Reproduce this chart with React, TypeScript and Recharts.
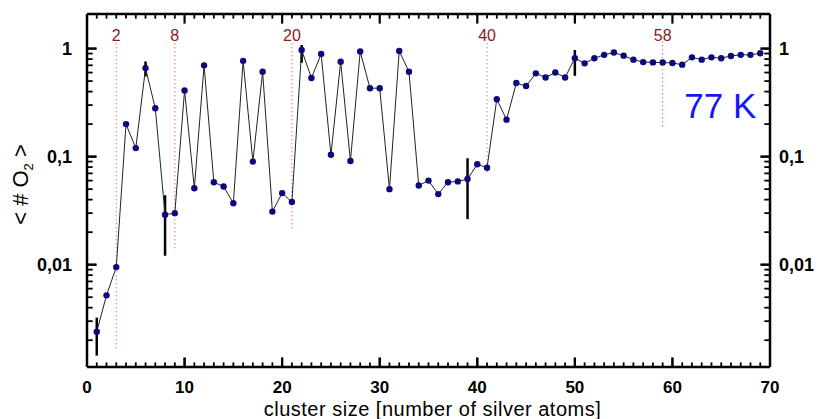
import React from 'react';
import { LineChart, Line, XAxis, YAxis, ReferenceLine, ReferenceDot } from 'recharts';

const sizes = [
  1, 2, 3, 4, 5, 6, 7, 8, 9, 10, 11, 12, 13, 14, 15, 16, 17, 18, 19, 20, 21, 22, 23,
  24, 25, 26, 27, 28, 29, 30, 31, 32, 33, 34, 35, 36, 37, 38, 39, 40, 41, 42, 43, 44,
  45, 46, 47, 48, 49, 50, 51, 52, 53, 54, 55, 56, 57, 58, 59, 60, 61, 62, 63, 64, 65,
  66, 67, 68, 69,
];

const o2 = [
  0.0024, 0.0052, 0.0095, 0.2, 0.12, 0.66, 0.28, 0.029, 0.03, 0.41, 0.051, 0.7, 0.058,
  0.053, 0.037, 0.77, 0.09, 0.61, 0.031, 0.046, 0.038, 0.97, 0.535, 0.89, 0.104, 0.755,
  0.091, 0.94, 0.43, 0.43, 0.05, 0.95, 0.61, 0.054, 0.06, 0.045, 0.058, 0.059, 0.062,
  0.085, 0.079, 0.34, 0.22, 0.48, 0.45, 0.59, 0.54, 0.6, 0.54, 0.815, 0.73, 0.815,
  0.875, 0.92, 0.86, 0.79, 0.75, 0.745, 0.745, 0.735, 0.71, 0.83, 0.79, 0.83, 0.815,
  0.855, 0.875, 0.875, 0.905,
];

// error bars (absolute low / high bounds)
const errX = [1, 6, 8, 22, 39, 50];
const errLow = [0.00144, 0.553, 0.0121, 0.74, 0.0264, 0.56];
const errHigh = [0.00324, 0.76, 0.0439, 1.08, 0.0966, 0.97];

// magic numbers: marker position, label, dotted line extent
const magicX = [3, 9, 21, 41, 59];
const magicLabels = ['2', '8', '20', '40', '58'];
const magicTop = [1.12, 1.12, 1.12, 1.12, 1.17];
const magicBottom = [0.0016, 0.0142, 0.0207, 0.067, 0.19];

const xLabelTicks = [0, 10, 20, 30, 40, 50, 60, 70];
const xMinorTicks = [
  1, 2, 3, 4, 5, 6, 7, 8, 9, 11, 12, 13, 14, 15, 16, 17, 18, 19, 21, 22, 23, 24, 25, 26,
  27, 28, 29, 31, 32, 33, 34, 35, 36, 37, 38, 39, 41, 42, 43, 44, 45, 46, 47, 48, 49, 51,
  52, 53, 54, 55, 56, 57, 58, 59, 61, 62, 63, 64, 65, 66, 67, 68, 69,
];
const xMajorInner = [10, 20, 30, 40, 50, 60];
const yLabelTicks = [0.01, 0.1, 1];
const yMinorTicks = [
  0.002, 0.003, 0.004, 0.005, 0.006, 0.007, 0.008, 0.009,
  0.02, 0.03, 0.04, 0.05, 0.06, 0.07, 0.08, 0.09,
  0.2, 0.3, 0.4, 0.5, 0.6, 0.7, 0.8, 0.9,
];

const data = sizes.map((n, i) => ({ n, v: o2[i] }));

const FONT = '"Liberation Sans", Arial, sans-serif';
const X_DOMAIN: [number, number] = [0, 70];
const Y_DOMAIN: [number, number] = [0.00113, 2.09];

// plot box in px, only used to give tick marks a fixed pixel length
const PLOT_W = 683;
const PLOT_H = 352;
const xPerPx = (X_DOMAIN[1] - X_DOMAIN[0]) / PLOT_W;
const decPerPx = Math.log10(Y_DOMAIN[1] / Y_DOMAIN[0]) / PLOT_H;
const EPS_X = 0.02;
const EPS_Y = 1.002;

const fmt = (v: number) => String(v).replace('.', ',');

const renderBottomTick = ({ x, y, payload }: any) => (
  <text x={x} y={Number(y) + 26} textAnchor="middle" fontSize={17} fontWeight="bold" fontFamily={FONT} fill="#000">
    {payload.value}
  </text>
);

const renderMagicTick = ({ x, y, index }: any) => (
  <text x={x} y={Number(y) + 27} textAnchor="middle" fontSize={16} fontFamily={FONT} fill="#8b1a1a">
    {magicLabels[index]}
  </text>
);

const renderLeftTick = ({ x, y, payload }: any) => (
  <text x={Number(x) - 15} y={y} dy="0.36em" textAnchor="end" fontSize={18} fontWeight="bold" fontFamily={FONT} fill="#000">
    {fmt(payload.value)}
  </text>
);

const renderRightTick = ({ x, y, payload }: any) => (
  <text x={Number(x) + 9} y={y} dy="0.36em" textAnchor="start" fontSize={18} fontWeight="bold" fontFamily={FONT} fill="#000">
    {fmt(payload.value)}
  </text>
);

const YTitle = ({ viewBox }: any) => {
  const cx = viewBox.x + 28;
  const cy = viewBox.y + viewBox.height / 2 - 6;
  return (
    <text transform={`translate(${cx},${cy}) rotate(-90)`} textAnchor="middle" fontSize={22} fontFamily={FONT} fill="#000">
      {'< # O'}
      <tspan fontSize={13} dy={5}>2</tspan>
      <tspan dy={-5}>{' >'}</tspan>
    </text>
  );
};

const frame = { stroke: '#000', strokeWidth: 2.5 };
const majorLine = { stroke: '#000', strokeWidth: 2 };

// tick marks drawn as short segments just inside the frame
const tickMarks = () => {
  const out: React.ReactNode[] = [];
  const xt = (list: number[], px: number, w: number, tag: string) => {
    const f = Math.pow(10, px * decPerPx);
    const y0 = Y_DOMAIN[0] * EPS_Y;
    const y1 = Y_DOMAIN[1] / EPS_Y;
    list.forEach((v) => {
      out.push(
        <ReferenceLine key={tag + 'b' + v} xAxisId="bottom" yAxisId="left"
          segment={[{ x: v, y: y0 }, { x: v, y: y0 * f }]} stroke="#000" strokeWidth={w} />,
        <ReferenceLine key={tag + 't' + v} xAxisId="bottom" yAxisId="left"
          segment={[{ x: v, y: y1 }, { x: v, y: y1 / f }]} stroke="#000" strokeWidth={w} />,
      );
    });
  };
  const yt = (list: number[], px: number, w: number, tag: string) => {
    const len = px * xPerPx;
    const x0 = X_DOMAIN[0] + EPS_X;
    const x1 = X_DOMAIN[1] - EPS_X;
    list.forEach((v) => {
      out.push(
        <ReferenceLine key={tag + 'l' + v} xAxisId="bottom" yAxisId="left"
          segment={[{ x: x0, y: v }, { x: x0 + len, y: v }]} stroke="#000" strokeWidth={w} />,
        <ReferenceLine key={tag + 'r' + v} xAxisId="bottom" yAxisId="left"
          segment={[{ x: x1, y: v }, { x: x1 - len, y: v }]} stroke="#000" strokeWidth={w} />,
      );
    });
  };
  xt(xMinorTicks, 4.5, 1.8, 'xm');
  xt(xMajorInner, 9.5, 2.2, 'xM');
  yt(yMinorTicks, 5.5, 1.8, 'ym');
  yt(yLabelTicks, 9.5, 2.2, 'yM');
  return out;
};

export default function App() {
  return (
    <div style={{ position: 'absolute', left: 0, top: 0, width: 822, height: 419, background: '#fff' }}>
      <LineChart width={822} height={419} data={data} margin={{ top: 13, right: 0, bottom: 0, left: 0 }}>
        <XAxis
          xAxisId="bottom"
          dataKey="n"
          type="number"
          domain={X_DOMAIN}
          allowDataOverflow
          ticks={xLabelTicks}
          interval={0}
          height={52}
          tickSize={-9}
          tickMargin={9}
          tickLine={majorLine}
          axisLine={frame}
          tick={renderBottomTick}
          label={{
            value: 'cluster size [number of silver atoms]',
            position: 'insideBottom',
            offset: 3,
            dx: 4,
            fontSize: 20,
            letterSpacing: 0.5,
            fontFamily: FONT,
            fill: '#000',
          }}
        />
        <XAxis
          xAxisId="top"
          orientation="top"
          dataKey="n"
          type="number"
          domain={X_DOMAIN}
          allowDataOverflow
          ticks={magicX}
          interval={0}
          height={1}
          tickSize={0}
          tickMargin={0}
          tickLine={false}
          axisLine={frame}
          tick={renderMagicTick}
        />
        <YAxis
          yAxisId="left"
          scale="log"
          type="number"
          domain={Y_DOMAIN}
          allowDataOverflow
          ticks={yLabelTicks}
          interval={0}
          width={87}
          tickSize={-9}
          tickMargin={9}
          tickLine={majorLine}
          axisLine={frame}
          tick={renderLeftTick}
          label={<YTitle />}
        />
        <YAxis
          yAxisId="right"
          orientation="right"
          scale="log"
          type="number"
          domain={Y_DOMAIN}
          allowDataOverflow
          ticks={yLabelTicks}
          interval={0}
          width={52}
          tickSize={-9}
          tickMargin={9}
          tickLine={majorLine}
          axisLine={frame}
          tick={renderRightTick}
        />
        {tickMarks()}
        {magicX.map((mx, i) => (
          <ReferenceLine
            key={'m' + mx}
            xAxisId="bottom"
            yAxisId="left"
            segment={[{ x: mx, y: magicTop[i] }, { x: mx, y: magicBottom[i] }]}
            stroke="#ff2a2a"
            strokeWidth={1}
            strokeDasharray="1 3"
          />
        ))}
        {errX.map((ex, i) => (
          <ReferenceLine
            key={'e' + ex}
            xAxisId="bottom"
            yAxisId="left"
            segment={[{ x: ex, y: errLow[i] }, { x: ex, y: errHigh[i] }]}
            stroke="#000"
            strokeWidth={2.5}
          />
        ))}
        <ReferenceDot
          xAxisId="bottom"
          yAxisId="left"
          x={64.9}
          y={0.3}
          r={0}
          fill="none"
          stroke="none"
          label={{ value: '77 K', position: 'center', fontSize: 35, fontFamily: FONT, fill: '#1414ff' }}
        />
        <Line
          xAxisId="top"
          yAxisId="right"
          dataKey="v"
          stroke="none"
          dot={false}
          activeDot={false}
          legendType="none"
          isAnimationActive={false}
        />
        <Line
          xAxisId="bottom"
          yAxisId="left"
          dataKey="v"
          type="linear"
          stroke="#222"
          strokeWidth={1}
          dot={{ r: 3.2, fill: '#0a0a7e', stroke: 'none' }}
          activeDot={false}
          isAnimationActive={false}
        />
      </LineChart>
    </div>
  );
}
